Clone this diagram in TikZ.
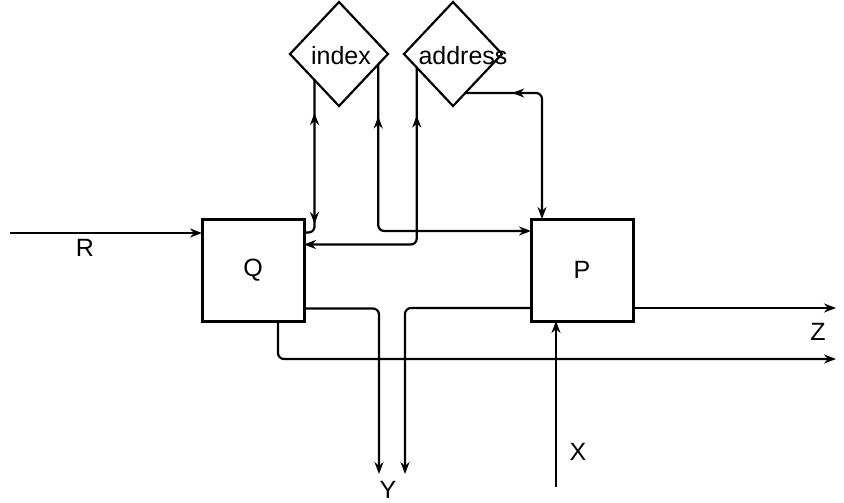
\documentclass[tikz,border=0pt]{standalone}
\usepackage{fontspec}
\setmainfont{Liberation Sans}
\usetikzlibrary{shapes.geometric,arrows.meta,decorations.markings,calc}
\begin{document}
\begin{tikzpicture}[x=1pt,y=-1pt,
  font=\fontsize{25}{30}\selectfont,
  box/.style={draw,line width=3pt,outer sep=0pt,minimum width=102pt,minimum height=102pt,inner sep=0pt},
  dia/.style={draw,diamond,line width=2.2pt,outer sep=0pt,minimum width=98pt,minimum height=104pt,inner sep=0pt},
  conn/.style={line width=2.2pt,rounded corners=6pt},
  >={Stealth[length=12pt,width=9pt]},
  back/.style={postaction={decorate,decoration={markings,mark=at position #1 with {\arrowreversed{Stealth[length=12pt,width=9pt]}}}}},
  fwd/.style={postaction={decorate,decoration={markings,mark=at position #1 with {\arrow{Stealth[length=12pt,width=9pt]}}}}},
  lbl/.style={inner sep=0pt}
]
\useasboundingbox (0,0) rectangle (844,503);

% boxes
\node[box] (Q) at (253,270.5) {Q};
\node[box] (P) at (582,270) {P};

% diamonds
\node[dia] (index) at (339,54) {};
\node[lbl] (indext) at (341,56) {index};
\node[dia] (address) at (453,54) {};
\node[lbl] (addresst) at (463,56) {address};

% edge points on diamonds
\coordinate (iL) at ($(index.west)!0.5!(index.south)$);
\coordinate (iR) at ($(index.east)!0.2!(index.south)$);
\coordinate (aL) at ($(address.west)!0.26!(address.south)$);
\coordinate (aR) at ($(address.south)!0.25!(address.east)$);

% free ends
\coordinate (r0) at (10,233);
\coordinate (yl) at (379,474);
\coordinate (yr) at (405,474);
\coordinate (z1) at (836,308);
\coordinate (z2) at (836,359);
\coordinate (x0) at (556,487);

% R input
\draw[conn,->] (r0) -- (r0 -| Q.west);
\node[lbl] (R) at (85,248) {R};

% index <-> Q
\draw[conn,back=33pt,fwd=144pt] (iL) |- ($(Q.north east)+(0,13)$);
% index <-> P
\draw[conn,->,back=52pt] (iR) |- ($(P.north west)+(0,12)$);
% address <-> Q
\draw[conn,->,back=48pt] (aL) |- ($(Q.north east)+(0,25)$);
% address <-> P
\draw[conn,->,back=47pt] (aR) -| ($(P.north west)+(11,0)$);

% outputs to Y
\draw[conn,->] ($(Q.north east)+(0,89)$) -| (yl);
\draw[conn,->] ($(P.north west)+(0,89)$) -| (yr);
\node[lbl,anchor=base] (Y) at (388,498) {Y};

% outputs to Z
\draw[conn,->] ($(P.north east)+(0,89)$) -- (z1);
\draw[conn,->] ($(Q.south west)+(76,0)$) |- (z2);
\node[lbl] (Z) at (818,332) {Z};

% X input
\draw[conn,->] (x0) -- (x0 |- P.south);
\node[lbl] (X) at (578,452) {X};
\end{tikzpicture}
\end{document}
